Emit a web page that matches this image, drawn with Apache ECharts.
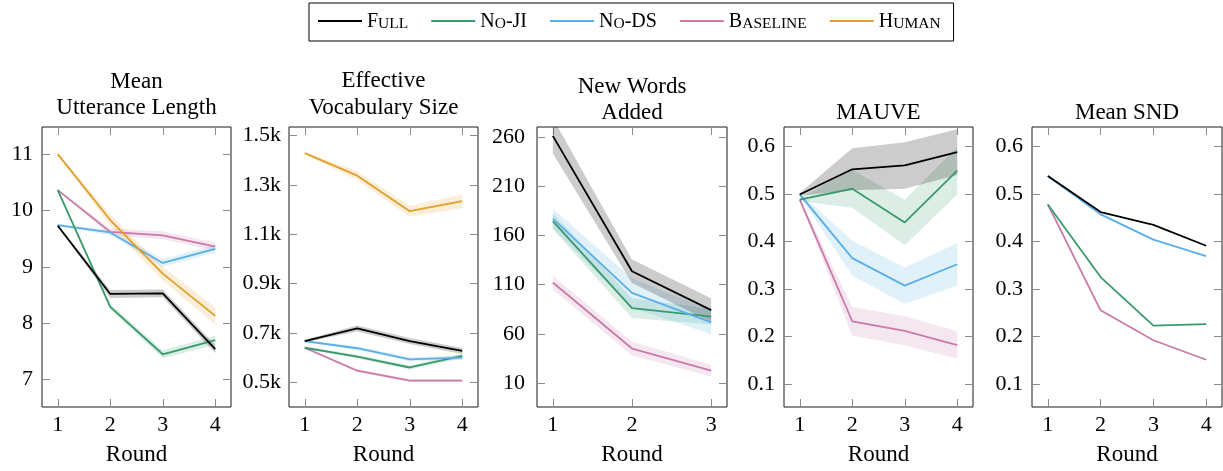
<!DOCTYPE html>
<html><head><meta charset="utf-8">
<script src="https://cdn.jsdelivr.net/npm/echarts@6/dist/echarts.min.js"></script>
<style>html,body{margin:0;padding:0;background:#fff}#c{width:1223px;height:471px}</style>
</head><body><div id="c"></div>
<script>
// ---------- data ----------
const seriesNames = ['Full', 'No-JI', 'No-DS', 'Baseline', 'Human'];
const rounds4 = [1, 2, 3, 4];
const rounds3 = [1, 2, 3];

// Mean Utterance Length (mean, half-width of band)
const mulFull = [9.73, 8.52, 8.53, 7.54];      const mulFullErr = [0.02, 0.07, 0.07, 0.07];
const mulNoJI = [10.36, 8.29, 7.45, 7.70];     const mulNoJIErr = [0.02, 0.05, 0.07, 0.08];
const mulNoDS = [9.74, 9.61, 9.07, 9.32];      const mulNoDSErr = [0.02, 0.05, 0.07, 0.07];
const mulBase = [10.36, 9.62, 9.56, 9.36];     const mulBaseErr = [0.02, 0.06, 0.07, 0.07];
const mulHuman = [11.0, 9.83, 8.88, 8.13];     const mulHumanErr = [0.02, 0.10, 0.12, 0.15];
const mulTicks = [7, 8, 9, 10, 11];

// Effective Vocabulary Size
const evsFull = [667, 718, 667, 627];          const evsFullErr = [5, 12, 12, 12];
const evsNoJI = [640, 604, 560, 607];          const evsNoJIErr = [5, 8, 8, 10];
const evsNoDS = [667, 638, 593, 600];          const evsNoDSErr = [5, 8, 8, 10];
const evsBase = [640, 547, 507, 507];          const evsBaseErr = [5, 6, 6, 6];
const evsHuman = [1428, 1337, 1193, 1234];     const evsHumanErr = [5, 18, 22, 28];
const evsTicks = [500, 700, 900, 1100, 1300, 1500];

// New Words Added
const nwaFull = [261, 123.5, 84];              const nwaFullErr = [18, 12, 12];
const nwaNoJI = [174.5, 86, 77.5];             const nwaNoJIErr = [8, 10, 8];
const nwaNoDS = [177, 101.5, 71.5];            const nwaNoDSErr = [10, 15, 12];
const nwaBase = [112, 45, 22.5];               const nwaBaseErr = [7, 7, 6];
const nwaTicks = [10, 60, 110, 160, 210, 260];

// MAUVE
const mauFull = [0.499, 0.552, 0.560, 0.588];  const mauFullErr = [0.003, 0.044, 0.049, 0.048];
const mauNoJI = [0.488, 0.511, 0.440, 0.549];  const mauNoJIErr = [0.003, 0.040, 0.048, 0.050];
const mauNoDS = [0.499, 0.365, 0.307, 0.352];  const mauNoDSErr = [0.003, 0.037, 0.038, 0.045];
const mauBase = [0.488, 0.232, 0.212, 0.182];  const mauBaseErr = [0.003, 0.030, 0.031, 0.029];
const mauTicks = [0.1, 0.2, 0.3, 0.4, 0.5, 0.6];

// Mean SND
const sndFull = [0.538, 0.462, 0.435, 0.391];
const sndNoJI = [0.478, 0.325, 0.223, 0.226];
const sndNoDS = [0.538, 0.457, 0.404, 0.369];
const sndBase = [0.478, 0.255, 0.192, 0.151];
const sndTicks = [0.1, 0.2, 0.3, 0.4, 0.5, 0.6];

// ---------- styles / layout ----------
const COLORS = { 'Full': '#000000', 'No-JI': '#3a9a6c', 'No-DS': '#5aafe6', 'Baseline': '#c97aa8', 'Human': '#e29f2b' };
const FONT = '"Liberation Serif", "DejaVu Serif", serif';

const panels = [
  { title: ['Mean', 'Utterance Length'], titleY: [81.5, 107.5], left: 42, width: 189, xs: rounds4, xmin: 0.7, xmax: 4.3,
    ymin: 6.515, ymax: 11.48, ticks: mulTicks, fmt: v => String(v), margin: 9,
    lines: [['Baseline', mulBase, mulBaseErr], ['No-DS', mulNoDS, mulNoDSErr], ['Human', mulHuman, mulHumanErr],
            ['No-JI', mulNoJI, mulNoJIErr], ['Full', mulFull, mulFullErr]] },
  { title: ['Effective', 'Vocabulary Size'], titleY: [80.5, 107.5], left: 289, width: 189, xs: rounds4, xmin: 0.7, xmax: 4.3,
    ymin: 400, ymax: 1534, ticks: evsTicks, fmt: v => (v / 1000).toFixed(1) + 'k', margin: 8,
    lines: [['Human', evsHuman, evsHumanErr], ['Baseline', evsBase, evsBaseErr], ['No-JI', evsNoJI, evsNoJIErr],
            ['No-DS', evsNoDS, evsNoDSErr], ['Full', evsFull, evsFullErr]] },
  { title: ['New Words', 'Added'], titleY: [86.5, 113], left: 537, width: 190, xs: rounds3, xmin: 0.8, xmax: 3.2,
    ymin: -14.4, ymax: 270, ticks: nwaTicks, fmt: v => String(v), margin: 12,
    lines: [['Baseline', nwaBase, nwaBaseErr], ['No-JI', nwaNoJI, nwaNoJIErr], ['No-DS', nwaNoDS, nwaNoDSErr],
            ['Full', nwaFull, nwaFullErr]] },
  { title: ['MAUVE'], titleY: [112.7], left: 784, width: 189, xs: rounds4, xmin: 0.7, xmax: 4.3,
    ymin: 0.0515, ymax: 0.641, ticks: mauTicks, fmt: v => v.toFixed(1), margin: 9,
    lines: [['Baseline', mauBase, mauBaseErr], ['No-DS', mauNoDS, mauNoDSErr], ['No-JI', mauNoJI, mauNoJIErr],
            ['Full', mauFull, mauFullErr]] },
  { title: ['Mean SND'], titleY: [112.7], left: 1032, width: 190, xs: rounds4, xmin: 0.7, xmax: 4.3,
    ymin: 0.0515, ymax: 0.641, ticks: sndTicks, fmt: v => v.toFixed(1), margin: 9,
    lines: [['Baseline', sndBase, null], ['No-JI', sndNoJI, null], ['No-DS', sndNoDS, null], ['Full', sndFull, null]] }
];

const TOP = 127, HEIGHT = 283;
const TICK = { show: true, inside: true, length: 8, lineStyle: { color: '#8a8a8a', width: 1 } };
const NO_LINE = { show: false, onZero: false };

const grid = [], xAxis = [], yAxis = [], series = [], graphic = [];

panels.forEach((p, k) => {
  grid.push({ left: p.left, top: TOP, width: p.width, height: HEIGHT, show: true,
    borderColor: '#1a1a1a', borderWidth: 1, backgroundColor: 'transparent' });
  const xBase = { type: 'value', gridIndex: k, min: p.xmin, max: p.xmax,
    axisLine: NO_LINE, splitLine: { show: false } };
  xAxis.push(Object.assign({}, xBase, { position: 'bottom',
    axisTick: Object.assign({}, TICK, { customValues: p.xs }),
    axisLabel: { show: true, customValues: p.xs, margin: 7, fontSize: 22, lineHeight: 22, fontFamily: FONT, color: '#000' },
    name: 'Round', nameLocation: 'middle', nameGap: 36,
    nameTextStyle: { fontSize: 23, lineHeight: 23, fontFamily: FONT, color: '#000' } }));
  xAxis.push(Object.assign({}, xBase, { position: 'top',
    axisTick: Object.assign({}, TICK, { customValues: p.xs }),
    axisLabel: { show: false, customValues: p.xs } }));
  const yBase = { type: 'value', gridIndex: k, min: p.ymin, max: p.ymax,
    axisLine: NO_LINE, splitLine: { show: false } };
  yAxis.push(Object.assign({}, yBase, { position: 'left',
    axisTick: Object.assign({}, TICK, { customValues: p.ticks }),
    axisLabel: { show: true, customValues: p.ticks, formatter: p.fmt, margin: p.margin,
      fontSize: 22, fontFamily: FONT, color: '#000' } }));
  yAxis.push(Object.assign({}, yBase, { position: 'right',
    axisTick: Object.assign({}, TICK, { customValues: p.ticks }),
    axisLabel: { show: false, customValues: p.ticks } }));

  // confidence bands: one polygon each, drawn through the axes' scales
  p.lines.forEach(([name, mean, err]) => {
    if (!err) return;
    const col = COLORS[name];
    const xs = p.xs;
    series.push({
      type: 'custom', name: name + ' band', xAxisIndex: 2 * k, yAxisIndex: 2 * k,
      clip: true, silent: true, z: 1, animation: false,
      data: [[xs[0], mean[0]]],
      renderItem: (params, api) => {
        const pts = [];
        for (let i = 0; i < xs.length; i++) pts.push(api.coord([xs[i], mean[i] + err[i]]));
        for (let i = xs.length - 1; i >= 0; i--) pts.push(api.coord([xs[i], mean[i] - err[i]]));
        return { type: 'polygon', shape: { points: pts },
          style: { fill: col, opacity: name === 'Full' ? 0.2 : 0.18, stroke: null } };
      }
    });
  });
  p.lines.forEach(([name, mean]) => {
    const col = COLORS[name];
    series.push({ type: 'line', name: name, xAxisIndex: 2 * k, yAxisIndex: 2 * k,
      symbol: 'none', z: 3, animation: false, color: col,
      lineStyle: { color: col, width: 1.8 }, itemStyle: { color: col },
      data: p.xs.map((x, i) => [x, mean[i]]) });
  });

  p.title.forEach((t, j) => {
    graphic.push({ type: 'text', x: p.left + p.width / 2, y: p.titleY[j], silent: true,
      style: { text: t, fill: '#000', font: '23px ' + FONT, align: 'center', verticalAlign: 'middle' } });
  });
});

function smallCaps(name) {
  let out = '';
  for (const ch of name) {
    if (ch >= 'a' && ch <= 'z') out += '{s|' + ch.toUpperCase() + '}';
    else out += '{b|' + ch + '}';
  }
  return out;
}

const option = {
  animation: false,
  backgroundColor: '#fff',
  grid, xAxis, yAxis, series, graphic,
  legend: {
    data: seriesNames,
    left: 309, top: 3,
    padding: [9, 13, 9, 9],
    borderColor: '#000', borderWidth: 1,
    itemGap: 23, itemWidth: 44, itemHeight: 18,
    icon: 'path://M0,0 L44,0 L44,2 L0,2 Z',
    formatter: smallCaps,
    textStyle: {
      color: '#000',
      rich: {
        b: { fontSize: 20, fontFamily: FONT, lineHeight: 22, verticalAlign: 'bottom', color: '#000' },
        s: { fontSize: 15.5, fontFamily: FONT, lineHeight: 22, verticalAlign: 'bottom', color: '#000' }
      }
    }
  }
};

const chart = echarts.init(document.getElementById('c'), null, { renderer: 'canvas' });
chart.setOption(option);
</script>
</body></html>
